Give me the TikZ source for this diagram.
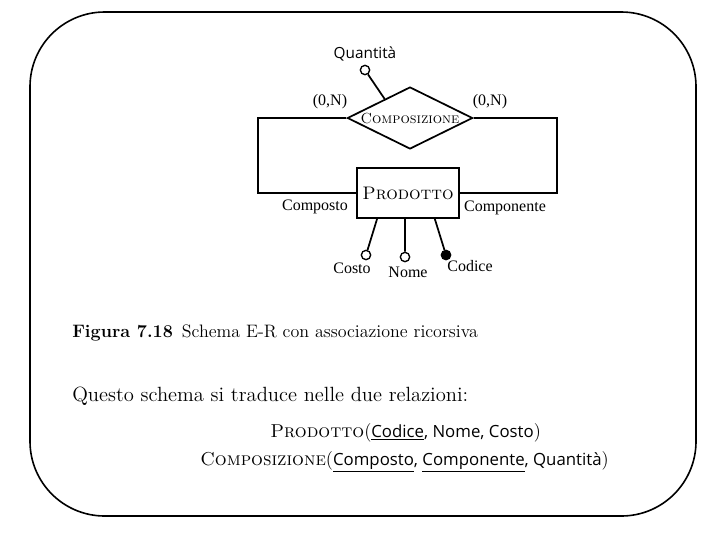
\documentclass[tikz,border=0pt]{standalone}
\usepackage{fontspec}
\usepackage{graphicx}
\newfontfamily\lblfont{Liberation Serif}
\newfontfamily\attrfont{Open Sans}
\usetikzlibrary{shapes.geometric,calc}

\begin{document}
\begin{tikzpicture}[x=0.75pt,y=-0.75pt,
    entnode/.style={rectangle, draw, line width=1.3pt, minimum width=76pt, minimum height=37.5pt, inner sep=1pt, font=\fontsize{13.6}{16}\selectfont\scshape},
    relnode/.style={diamond, draw, line width=1.3pt, aspect=2, inner sep=0pt, minimum width=94pt, minimum height=46.5pt, font=\fontsize{11}{12}\selectfont\scshape},
    attrnode/.style={circle, draw, line width=1pt, fill=white, minimum size=7pt, inner sep=0pt},
    keynode/.style={attrnode, fill=black},
    lblnode/.style={inner sep=1pt, font=\lblfont\fontsize{12}{14}\selectfont},
    txtnode/.style={anchor=base west, inner sep=0pt, font=\fontsize{13.5}{16}\selectfont},
    ]
    \useasboundingbox (0,0) rectangle (720,540);
    \draw [line width=1.2pt, rounded corners=56pt] (30,12) rectangle (696,516);

    % schema E-R
    \node [relnode] (comp) at (410,118) {Composizione};
    \node [entnode] (prod) at (408,193) {Prodotto};

    \node [attrnode, label={[font=\attrfont\fontsize{11.5}{13}\selectfont, label distance=-1pt]above:Quantità}] (quant) at (365,70) {};
    \node [attrnode] (costo) at (366,255) {};
    \node [attrnode] (nome) at (405,257) {};
    \node [keynode] (codice) at (446,255) {};

    \coordinate (lc) at (258,118);
    \coordinate (rc) at (557,118);

    \draw [line width=1.3pt] (comp.west) -- (lc) |- (prod.west);
    \draw [line width=1.3pt] (comp.east) -- (rc) |- (prod.east);
    \draw [line width=1.3pt] ($(comp.north)!0.4!(comp.west)$) -- (quant);
    \draw [line width=1.3pt] ($(prod.south west)!0.2!(prod.south east)$) -- (costo);
    \draw [line width=1.3pt] ($(prod.south west)!0.47!(prod.south east)$) -- (nome);
    \draw [line width=1.3pt] ($(prod.south west)!0.76!(prod.south east)$) -- (codice);

    \node [lblnode] (card1) at (330,102) {(0,N)};
    \node [lblnode] (card2) at (490,102) {(0,N)};
    \node [lblnode] (ruolo1) at (315,207) {Composto};
    \node [lblnode] (ruolo2) at (505,208) {Componente};
    \node [lblnode] (lcosto) at (352,268) {Costo};
    \node [lblnode] (lnome) at (408,272) {Nome};
    \node [lblnode] (lcodice) at (470,266) {Codice};

    % testo
    \node [txtnode] (didasc) at (72,337) {\textbf{Figura 7.18}\enspace Schema E-R con associazione ricorsiva};
    \node [txtnode] (frase) at (72,401) {\resizebox{297pt}{!}{Questo schema si traduce nelle due relazioni:}};
    \node [txtnode, font=\fontsize{14}{16}\selectfont] (rel1) at (270,437) {\textsc{Prodotto}({\attrfont\fontsize{12.6}{15}\selectfont\underline{Codice}, Nome, Costo})};
    \node [txtnode, font=\fontsize{14}{16}\selectfont] (rel2) at (200,465) {\textsc{Composizione}({\attrfont\fontsize{12.6}{15}\selectfont\underline{Composto}, \underline{Componente}, Quantità})};
\end{tikzpicture}
\end{document}
